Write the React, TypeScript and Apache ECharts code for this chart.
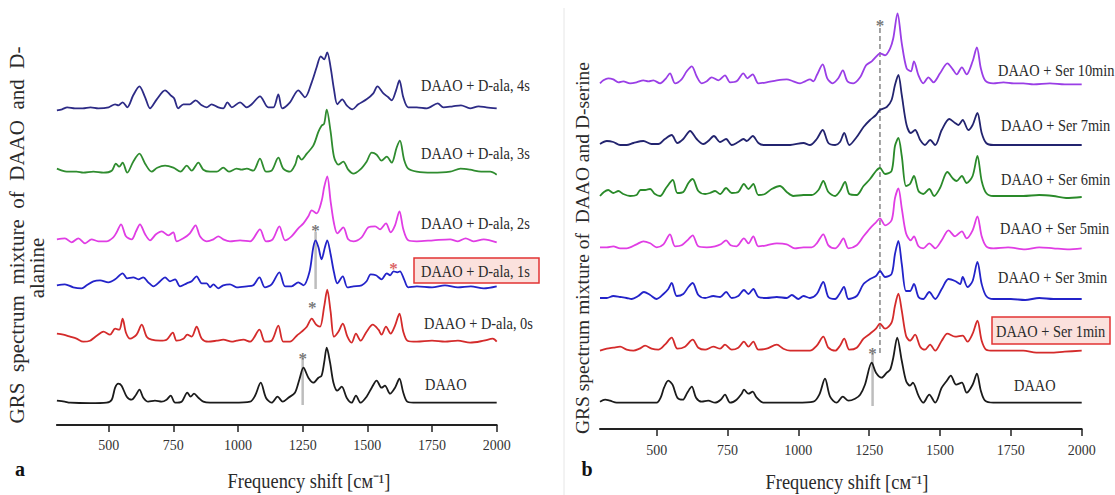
import React, { useEffect, useRef } from "react";
import * as echarts from "echarts";

// ---------- axis ticks ----------
const xTickLabels = [500, 750, 1000, 1250, 1500, 1750, 2000];
const xMinorTicks = [375, 625, 875, 1125, 1375, 1625, 1875];

// ---------- panel a : DAAO + D-alanine ----------
const namesA = ["DAAO + D-ala, 4s", "DAAO + D-ala, 3s", "DAAO + D-ala, 2s", "DAAO + D-ala, 1s", "DAAO + D-ala, 0s", "DAAO"];
const offsetsA = [317.7, 253.3, 183.7, 137.7, 83.3, 22.3];

const a4s = [[300,-3],[320,-2],[340,0],[370,-1],[400,-1],[430,0],[460,-1],[500,0],[525,3],[538,2],[554,5],[572,0],[595,12],[619,21],[641,10],[660,-1],[686,8],[718,17],[740,12],[753,9],[769,-1],[789,3],[814,3],[836,7],[860,2],[879,0],[898,3],[924,0],[943,-1],[959,5],[976,0],[1008,5],[1034,0],[1053,3],[1085,11],[1117,0],[1137,0],[1156,13],[1171,-1],[1201,5],[1233,17],[1259,10],[1285,25],[1304,40],[1320,51],[1333,48],[1345,55],[1358,40],[1371,18],[1384,3],[1403,8],[1420,2],[1442,-2],[1465,3],[1497,8],[1523,14],[1539,21],[1562,14],[1581,10],[1594,7],[1611,17],[1624,27],[1639,10],[1658,0],[1691,0],[1730,-1],[1772,4],[1794,0],[1830,1],[1862,2],[1897,-1],[1930,1],[1960,0],[2000,-1]];
const a3s = [[300,3],[320,1],[338,0],[376,0],[402,-1],[441,0],[480,-1],[512,1],[528,8],[541,5],[554,9],[572,-1],[595,10],[619,18],[641,8],[666,0],[688,4],[718,6],[750,4],[778,0],[802,6],[821,1],[847,9],[866,2],[892,0],[918,0],[943,4],[965,0],[995,3],[1014,2],[1034,3],[1059,1],[1085,13],[1108,0],[1130,1],[1156,14],[1175,3],[1201,0],[1221,7],[1233,16],[1246,12],[1266,18],[1291,26],[1311,40],[1323,46],[1333,48],[1343,62],[1358,40],[1371,15],[1388,7],[1407,10],[1426,2],[1446,-2],[1472,2],[1497,10],[1517,19],[1536,17],[1555,11],[1575,15],[1594,9],[1613,24],[1626,31],[1642,12],[1658,3],[1691,0],[1750,-1],[1820,0],[1860,3],[1897,2],[1940,0],[1975,0],[2000,-3]];
const a2s = [[300,2],[331,3],[357,-1],[383,3],[409,-2],[434,2],[460,0],[492,0],[518,4],[531,9],[548,17],[567,5],[589,2],[606,10],[621,17],[641,7],[660,1],[683,7],[705,10],[731,6],[750,9],[763,0],[789,3],[814,8],[836,16],[853,5],[879,0],[905,2],[924,5],[943,2],[969,0],[1008,1],[1047,0],[1085,12],[1108,0],[1134,2],[1160,15],[1182,1],[1207,5],[1233,13],[1253,18],[1272,25],[1285,31],[1304,28],[1323,40],[1333,54],[1345,65],[1358,40],[1371,18],[1384,8],[1407,14],[1426,2],[1446,0],[1478,4],[1504,14],[1530,15],[1549,12],[1572,18],[1590,9],[1607,16],[1624,30],[1639,12],[1658,1],[1691,0],[1755,1],[1820,2],[1850,0],[1880,3],[1910,0],[1950,2],[2000,-1]];
const a1s = [[300,2],[331,3],[363,0],[396,-1],[415,2],[441,6],[467,7],[499,5],[525,8],[554,14],[572,9],[595,10],[615,8],[634,10],[653,5],[673,1],[699,6],[718,10],[737,6],[757,8],[776,1],[802,4],[821,6],[840,11],[860,4],[879,4],[892,0],[905,3],[924,-1],[943,2],[969,3],[995,0],[1034,1],[1059,2],[1083,10],[1104,0],[1130,3],[1160,15],[1182,1],[1207,1],[1233,5],[1253,2],[1276,15],[1291,40],[1300,47],[1311,40],[1323,28],[1336,40],[1345,47],[1358,33],[1371,15],[1384,4],[1405,11],[1423,0],[1446,1],[1478,2],[1497,6],[1513,13],[1533,12],[1555,8],[1575,14],[1588,12],[1601,16],[1616,15],[1626,16],[1642,8],[1658,0],[1691,1],[1750,0],[1800,2],[1850,0],[1900,1],[1950,-1],[2000,1]];
const a0s = [[300,8],[325,7],[351,5],[376,3],[402,0],[428,1],[454,6],[480,10],[505,7],[525,13],[541,12],[554,23],[567,9],[583,3],[608,7],[628,17],[647,5],[666,2],[699,1],[724,2],[748,9],[763,1],[789,3],[804,7],[821,5],[840,15],[860,3],[885,0],[918,1],[943,2],[976,0],[995,1],[1021,2],[1047,0],[1083,12],[1104,0],[1130,1],[1156,16],[1175,0],[1201,0],[1227,6],[1246,10],[1266,15],[1285,23],[1302,17],[1317,15],[1333,35],[1345,52],[1358,30],[1371,5],[1388,10],[1405,18],[1423,5],[1439,-1],[1456,8],[1474,1],[1497,10],[1521,17],[1543,12],[1555,7],[1572,15],[1590,8],[1607,16],[1624,28],[1639,10],[1655,1],[1691,0],[1750,1],[1800,0],[1850,1],[1897,-1],[1950,1],[1985,3],[2000,0]];
const aDaao = [[300,2],[330,1],[351,0],[428,-0.5],[492,0],[512,3],[525,15],[537,19],[550,17],[570,6],[589,3],[606,8],[619,13],[634,5],[653,1],[679,2],[705,1],[724,3],[740,7],[757,0],[782,1],[804,10],[817,6],[830,9],[847,5],[866,1],[892,0],[982,0],[1047,1],[1066,7],[1088,20],[1108,5],[1130,0],[1153,6],[1173,1],[1195,5],[1220,10],[1237,23],[1253,35],[1272,25],[1291,20],[1311,25],[1323,27],[1333,40],[1343,55],[1356,40],[1369,20],[1384,12],[1401,16],[1420,5],[1439,0],[1456,7],[1474,0],[1497,6],[1517,15],[1536,22],[1555,15],[1568,17],[1588,9],[1607,15],[1624,24],[1639,10],[1655,1],[1691,0],[1800,0],[2000,0]];
const tracesA = [a4s, a3s, a2s, a1s, a0s, aDaao];

// guide lines and asterisks, panel a (x, from, to in axis units)
const guidesA = [{ x: 1250, from: 20, to: 67 }, { x: 1300, from: 136, to: 193 }];
const starsA = [{ x: 1250, y: 71, red: false }, { x: 1300, y: 199, red: false }, { x: 1287, y: 122, red: false }, { x: 1601, y: 161, red: true }];

// ---------- panel b : DAAO + D-serine ----------
const namesB = ["DAAO + Ser 10min", "DAAO + Ser 7min", "DAAO + Ser 6min", "DAAO + Ser 5min", "DAAO + Ser 3min", "DAAO + Ser 1min", "DAAO"];
const offsetsB = [345.7, 284, 233, 180.7, 130, 78.3, 26.3];

const b10 = [[300,0],[312,3],[329,5],[347,4],[365,1],[382,2],[406,0],[429,1],[453,3],[471,2],[488,3],[512,0],[533,5],[547,10],[565,0],[588,4],[606,12],[624,17],[641,7],[659,0],[677,2],[694,6],[718,3],[741,8],[759,1],[782,2],[806,10],[820,5],[839,9],[859,0],[888,1],[924,3],[959,4],[982,2],[1006,0],[1024,2],[1041,4],[1053,2],[1065,8],[1086,19],[1102,5],[1121,0],[1141,5],[1157,13],[1173,2],[1194,0],[1218,6],[1239,18],[1259,22],[1279,28],[1288,30],[1306,28],[1324,35],[1335,45],[1350,70],[1365,40],[1382,15],[1397,12],[1408,22],[1424,8],[1441,0],[1459,6],[1477,1],[1500,10],[1526,20],[1545,14],[1559,9],[1577,16],[1594,9],[1615,22],[1630,36],[1644,15],[1659,3],[1688,0],[1724,1],[1760,0],[1794,0],[1830,-1],[1888,0],[1940,-1],[2000,-1]];
const b7 = [[300,1],[324,4],[347,3],[371,0],[394,0],[418,2],[453,4],[482,1],[506,1],[529,6],[553,10],[573,2],[594,6],[618,14],[641,6],[665,1],[682,4],[702,9],[724,3],[745,6],[765,0],[788,3],[806,6],[818,4],[839,9],[859,2],[877,0],[924,0],[971,0],[1018,2],[1041,0],[1065,6],[1086,15],[1106,2],[1130,0],[1147,3],[1162,12],[1180,0],[1206,8],[1230,18],[1253,25],[1274,30],[1288,35],[1312,38],[1329,45],[1341,60],[1353,70],[1365,50],[1382,20],[1397,12],[1412,15],[1430,5],[1447,0],[1465,5],[1483,0],[1506,15],[1533,26],[1553,22],[1565,20],[1580,25],[1600,15],[1615,20],[1632,32],[1647,12],[1663,2],[1688,0],[1800,0],[1888,0],[2000,0]];
const b6 = [[300,0],[314,4],[329,6],[347,3],[365,5],[382,2],[406,0],[429,1],[443,6],[459,6],[477,7],[494,2],[512,0],[533,8],[557,16],[573,3],[594,4],[612,13],[627,17],[647,5],[671,2],[688,3],[706,5],[724,2],[745,8],[765,3],[788,4],[808,12],[824,7],[841,12],[859,1],[882,2],[906,7],[935,10],[959,4],[982,0],[1018,1],[1047,1],[1071,6],[1088,15],[1106,4],[1130,0],[1147,5],[1165,14],[1180,2],[1206,1],[1230,10],[1253,17],[1274,25],[1288,28],[1306,22],[1329,25],[1341,50],[1353,58],[1365,40],[1380,10],[1394,12],[1408,20],[1424,5],[1441,2],[1462,7],[1479,0],[1500,8],[1526,24],[1547,17],[1559,15],[1577,20],[1594,13],[1615,20],[1632,40],[1647,15],[1663,3],[1688,0],[1794,0],[1850,1],[1900,0],[1945,-2],[2000,-1]];
const b5 = [[300,1],[324,1],[347,2],[371,0],[394,0],[429,4],[453,7],[477,5],[500,1],[524,4],[547,14],[565,2],[588,3],[612,9],[627,13],[647,2],[677,1],[706,2],[726,4],[745,8],[761,3],[782,2],[808,10],[824,5],[841,12],[859,2],[888,3],[924,5],[959,4],[988,0],[1018,1],[1047,1],[1065,5],[1088,14],[1106,3],[1130,0],[1145,4],[1159,10],[1177,0],[1206,3],[1230,12],[1253,20],[1274,26],[1288,30],[1306,23],[1329,28],[1341,50],[1353,60],[1365,40],[1380,15],[1397,8],[1408,12],[1424,2],[1441,0],[1462,5],[1483,0],[1506,8],[1530,18],[1553,12],[1577,17],[1594,10],[1615,18],[1632,32],[1647,12],[1663,2],[1688,0],[1740,1],[1800,-1],[1850,1],[1900,0],[1950,-1],[2000,0]];
const b3 = [[300,1],[324,1],[347,3],[371,2],[394,1],[412,0],[435,3],[455,7],[477,4],[500,0],[524,5],[541,10],[553,16],[571,3],[594,5],[612,12],[627,16],[647,4],[671,1],[700,3],[724,2],[745,7],[765,1],[788,3],[808,9],[824,5],[841,10],[859,2],[888,1],[924,2],[959,1],[977,4],[1000,0],[1018,3],[1041,1],[1065,5],[1088,17],[1106,2],[1130,0],[1145,5],[1161,12],[1177,0],[1206,3],[1230,15],[1253,20],[1274,23],[1288,28],[1306,22],[1329,25],[1341,45],[1353,58],[1365,35],[1380,8],[1394,8],[1408,15],[1424,2],[1441,0],[1462,7],[1483,0],[1506,10],[1530,20],[1553,18],[1571,15],[1580,22],[1597,12],[1615,18],[1632,37],[1647,15],[1663,3],[1688,0],[1750,0],[1800,-1],[1850,1],[1900,0],[2000,0]];
const b1 = [[300,0],[324,2],[347,3],[371,4],[394,1],[418,0],[439,2],[459,5],[482,2],[506,1],[529,6],[553,13],[573,2],[600,4],[627,11],[647,3],[671,1],[700,4],[724,2],[741,6],[765,1],[788,3],[808,9],[824,4],[841,9],[859,1],[888,2],[924,6],[947,2],[971,0],[1018,0],[1041,0],[1065,5],[1088,14],[1106,3],[1130,0],[1147,5],[1162,12],[1180,1],[1206,3],[1230,12],[1253,17],[1274,22],[1288,27],[1306,22],[1329,28],[1341,45],[1353,57],[1365,40],[1380,15],[1394,10],[1412,16],[1430,4],[1447,1],[1465,6],[1483,0],[1506,10],[1526,17],[1553,14],[1580,15],[1597,9],[1615,17],[1632,30],[1647,10],[1663,1],[1688,0],[1794,0],[1840,-2],[1888,-2],[1940,-1],[2000,0]];
const bDaao = [[300,1],[318,3],[335,2],[359,0],[441,0],[500,0],[514,5],[526,15],[541,22],[556,18],[573,5],[592,3],[608,10],[624,16],[639,5],[659,1],[682,2],[706,0],[726,3],[741,8],[759,0],[782,3],[800,9],[808,13],[824,9],[839,11],[853,5],[877,0],[924,0],[994,0],[1053,1],[1074,8],[1094,24],[1112,6],[1135,0],[1157,6],[1177,2],[1200,4],[1218,8],[1235,18],[1259,40],[1274,30],[1294,25],[1312,30],[1324,33],[1335,45],[1349,65],[1365,42],[1380,22],[1394,17],[1404,20],[1424,7],[1441,0],[1462,8],[1483,0],[1506,15],[1524,22],[1538,27],[1557,18],[1577,20],[1594,10],[1615,18],[1630,29],[1644,12],[1659,2],[1688,0],[2000,0]];
const tracesB = [b10, b7, b6, b5, b3, b1, bDaao];

const guidesB = [{ x: 1288, from: 76, to: 402, dashed: true }, { x: 1262, from: 23, to: 76, dashed: false }];
const starsB = [{ x: 1288, y: 408, red: false }, { x: 1262, y: 80, red: false }];

// ---------- styling ----------
const colorsA = ["#2d2b86", "#2f8c2f", "#e03de4", "#2323c9", "#d42b2b", "#1b1b1b"];
const colorsB = ["#9a3ee6", "#23246f", "#2a8a2a", "#e03de4", "#2323c9", "#d42b2b", "#1b1b1b"];
const SERIF = "Liberation Serif";

const labelPosA = [[421, 85], [421, 153], [421, 223], [421, 271], [424, 323], [425, 384]];
const labelPosB = [[998, 70], [1001, 125], [1001, 179], [1000, 228], [998, 277], [996, 331], [1014, 385]];

function txt(x: number, y: number, text: string, size: number, extra: any = {}) {
  return {
    type: "text",
    x,
    y,
    rotation: extra.rotation || 0,
    scaleX: extra.scaleX || 1,
    z: 100,
    style: {
      text,
      fill: extra.fill || "#2a2a2a",
      font: `${extra.bold ? "bold " : ""}${size}px "Liberation Serif", serif`,
      align: extra.align || "left",
      verticalAlign: "middle",
      textAlign: extra.align || "left",
      textVerticalAlign: "middle",
    },
  };
}

function buildOption() {
  const series: any[] = [];
  const mkGuide = (xi: number, yi: number, g: any) => ({
    type: "line",
    xAxisIndex: xi,
    yAxisIndex: yi,
    data: [[g.x, g.from], [g.x, g.to]],
    symbol: "none",
    silent: true,
    z: 1,
    lineStyle: { color: g.dashed ? "#9a9a9a" : "#bdbdbd", width: g.dashed ? 1.8 : 2.5, type: g.dashed ? [5, 3] : "solid" },
  });
  const mkStar = (xi: number, yi: number, s: any) => ({
    type: "scatter",
    xAxisIndex: xi,
    yAxisIndex: yi,
    data: [[s.x, s.y]],
    symbolSize: 2,
    silent: true,
    z: 5,
    itemStyle: { color: "rgba(255,255,255,0)" },
    label: {
      show: true,
      formatter: "*",
      position: "inside",
      offset: [0, 4],
      color: s.red ? "#d23b3b" : "#555555",
      fontSize: 17,
      fontWeight: "bold",
      fontFamily: SERIF,
    },
  });
  guidesA.forEach((g) => series.push(mkGuide(0, 0, g)));
  guidesB.forEach((g) => series.push(mkGuide(2, 1, g)));
  tracesA.forEach((tr, i) => {
    series.push({
      type: "line",
      name: namesA[i],
      xAxisIndex: 0,
      yAxisIndex: 0,
      data: tr.map(([x, h]) => [x, h + offsetsA[i]]),
      symbol: "none",
      smooth: 0.3,
      silent: true,
      z: 3,
      lineStyle: { color: colorsA[i], width: 1.8 },
    });
  });
  tracesB.forEach((tr, i) => {
    series.push({
      type: "line",
      name: namesB[i],
      xAxisIndex: 2,
      yAxisIndex: 1,
      data: tr.map(([x, h]) => [x, h + offsetsB[i]]),
      symbol: "none",
      smooth: 0.3,
      silent: true,
      z: 3,
      lineStyle: { color: colorsB[i], width: 1.8 },
    });
  });
  starsA.forEach((s) => series.push(mkStar(0, 0, s)));
  starsB.forEach((s) => series.push(mkStar(2, 1, s)));

  const majorAxis = (gi: number, margin: number) => ({
    gridIndex: gi,
    type: "value",
    min: 300,
    max: 2000,
    axisLine: { show: true, lineStyle: { color: "#222", width: 2 } },
    axisTick: { show: true, customValues: xTickLabels, length: 7, lineStyle: { color: "#222", width: 1.5 } },
    axisLabel: {
      show: true,
      customValues: xTickLabels,
      margin,
      color: "#333",
      fontSize: 14,
      fontFamily: SERIF,
      formatter: (v: number) => String(v),
    },
    splitLine: { show: false },
  });
  const minorAxis = (gi: number) => ({
    gridIndex: gi,
    type: "value",
    min: 300,
    max: 2000,
    axisLine: { show: false },
    axisTick: { show: true, customValues: xMinorTicks, length: 4, lineStyle: { color: "#222", width: 1.5 } },
    axisLabel: { show: false },
    splitLine: { show: false },
  });

  const graphic: any[] = [];
  graphic.push({ type: "line", shape: { x1: 564, y1: 8, x2: 564, y2: 495 }, style: { stroke: "#e6e6e6", lineWidth: 1 }, z: 0 });
  graphic.push({ type: "rect", shape: { x: 414, y: 258, width: 125, height: 25 }, style: { fill: "#fbe1dd", stroke: "#e23333", lineWidth: 1.5 }, z: 50 });
  graphic.push({ type: "rect", shape: { x: 992, y: 317, width: 118, height: 27 }, style: { fill: "#fbe1dd", stroke: "#e23333", lineWidth: 1.5 }, z: 50 });
  namesA.forEach((n, i) => graphic.push(txt(labelPosA[i][0], labelPosA[i][1], n, 16, { scaleX: 0.9 })));
  namesB.forEach((n, i) => graphic.push(txt(labelPosB[i][0], labelPosB[i][1], n, 16, { scaleX: 0.9 })));
  graphic.push(txt(17, 235, "GRS  spectrum  mixture  of  DAAO  and  D-", 21, { rotation: Math.PI / 2, align: "center" }));
  graphic.push(txt(37, 268, "alanine", 21, { rotation: Math.PI / 2, align: "center" }));
  graphic.push(txt(582, 248, "GRS spectrum mixture of  DAAO and D-serine", 19.5, { rotation: Math.PI / 2, align: "center" }));
  graphic.push(txt(309, 481, "Frequency shift [cм⁻¹]", 20, { align: "center", scaleX: 0.92 }));
  graphic.push(txt(847, 482, "Frequency shift [cм⁻¹]", 20, { align: "center", scaleX: 0.92 }));
  graphic.push(txt(20, 469, "a", 20, { bold: true, align: "center", fill: "#111" }));
  graphic.push(txt(587, 469, "b", 20, { bold: true, align: "center", fill: "#111" }));

  return {
    animation: false,
    backgroundColor: "#ffffff",
    textStyle: { fontFamily: SERIF },
    grid: [
      { left: 56.9, width: 439.8, top: 0, height: 425 },
      { left: 600, width: 481.7, top: 0, height: 429 },
    ],
    xAxis: [majorAxis(0, 13), minorAxis(0), majorAxis(1, 14), minorAxis(1)],
    yAxis: [
      { gridIndex: 0, type: "value", min: 0, max: 425, show: false },
      { gridIndex: 1, type: "value", min: 0, max: 429, show: false },
    ],
    series,
    graphic,
  };
}

export default function App() {
  const ref = useRef<HTMLDivElement>(null);
  useEffect(() => {
    if (!ref.current) return;
    const chart = echarts.init(ref.current, null, { renderer: "svg" });
    chart.setOption(buildOption() as any);
    return () => chart.dispose();
  }, []);
  return (
    <div
      ref={ref}
      style={{ position: "fixed", left: 0, top: 0, width: 1115, height: 495, background: "#fff" }}
    />
  );
}
